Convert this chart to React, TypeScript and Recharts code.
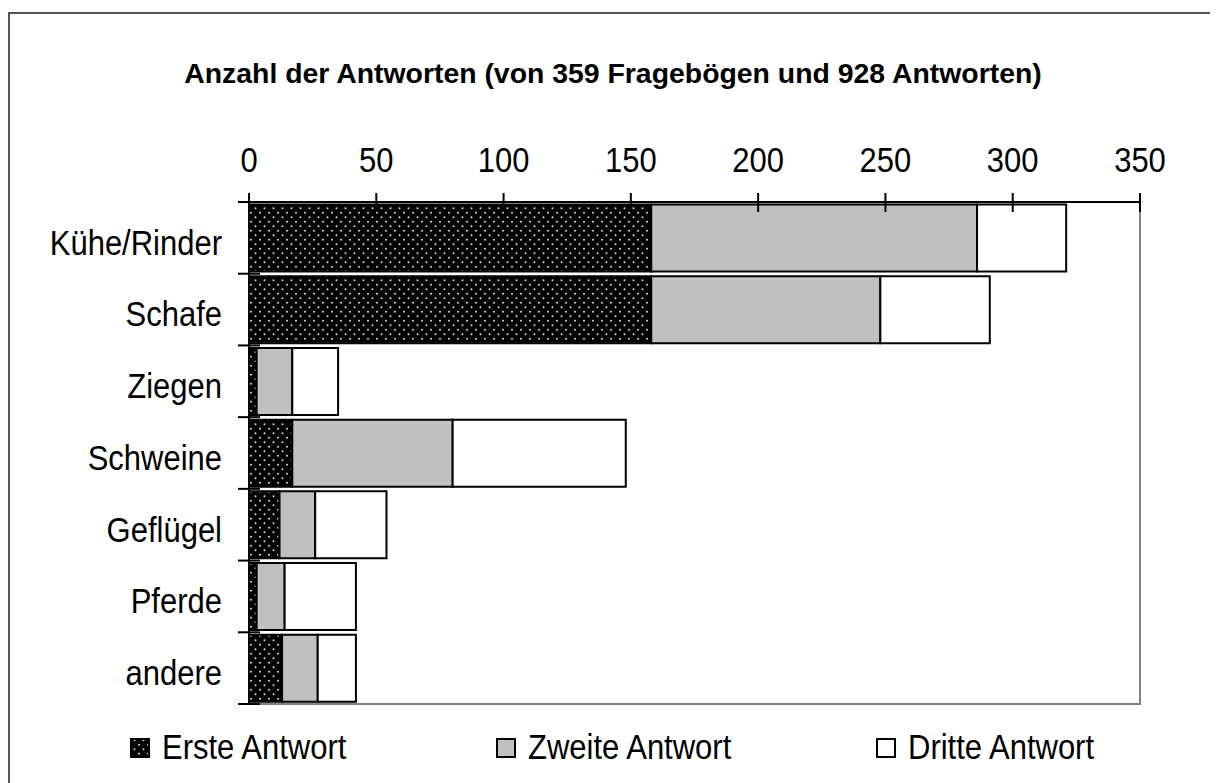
import React from "react";
import {
  Bar,
  BarChart,
  ReferenceArea,
  XAxis,
  YAxis,
} from "recharts";

const categories = [
  "Kühe/Rinder",
  "Schafe",
  "Ziegen",
  "Schweine",
  "Geflügel",
  "Pferde",
  "andere",
];
const erste = [158, 158, 3, 17, 12, 3, 13];
const zweite = [128, 90, 14, 63, 14, 11, 14];
const dritte = [35, 43, 18, 68, 28, 28, 15];
const xTicks = [0, 50, 100, 150, 200, 250, 300, 350];
const seriesNames = ["Erste Antwort", "Zweite Antwort", "Dritte Antwort"];

const title = "Anzahl der Antworten (von 359 Fragebögen und 928 Antworten)";

const data = categories.map((name, i) => ({
  name,
  erste: erste[i],
  zweite: zweite[i],
  dritte: dritte[i],
}));

const FONT = '"Liberation Sans", Arial, sans-serif';
const PLOT_TOP = 194;
const PLOT_BOTTOM = 696;
const BAND = (PLOT_BOTTOM - PLOT_TOP) / categories.length;
const STRETCH = 1.15;

function XTick(props: any) {
  const { x, y, payload } = props;
  return (
    <g>
      <line x1={x} x2={x} y1={y - 9} y2={y + 10} stroke="#000" strokeWidth={2} />
      <text
        transform={`translate(${x},${y - 30}) scale(1,${STRETCH})`}
        textAnchor="middle"
        fontFamily={FONT}
        fontSize={31}
        fill="#000"
      >
        {payload.value}
      </text>
    </g>
  );
}

function YTick(props: any) {
  const { x, y, payload, index } = props;
  return (
    <g>
      <line x1={x - 11} x2={x + 11} y1={y - BAND / 2} y2={y - BAND / 2} stroke="#000" strokeWidth={2} />
      {index === categories.length - 1 && (
        <line x1={x - 11} x2={x + 11} y1={y + BAND / 2} y2={y + BAND / 2} stroke="#000" strokeWidth={2} />
      )}
      <text
        transform={`translate(${x - 27},${y + 4}) scale(1,${STRETCH})`}
        dy="0.36em"
        textAnchor="end"
        fontFamily={FONT}
        fontSize={31}
        fill="#000"
      >
        {payload.value}
      </text>
    </g>
  );
}

const legendFills = ["url(#dots)", "#c0c0c0", "#ffffff"];
const legendX = [122, 488, 868];

export default function App() {
  return (
    <div style={{ position: "relative", width: 1210, height: 775, fontFamily: FONT }}>
      <div
        style={{
          position: "absolute",
          left: 0,
          top: 4,
          width: 1210,
          height: 771,
          borderLeft: "2px solid #555",
          borderTop: "2px solid #555",
          boxSizing: "border-box",
        }}
      />
      <div
        style={{
          position: "absolute",
          left: 0,
          top: 50,
          width: 1210,
          lineHeight: "30px",
          textAlign: "center",
          fontWeight: "bold",
          fontSize: 28.4,
        }}
      >
        {title}
      </div>
      <div style={{ position: "absolute", left: 0, top: 0 }}>
        <BarChart
          width={1210}
          height={775}
          data={data}
          layout="vertical"
          barCategoryGap="3.5%"
          margin={{ top: PLOT_TOP - 60, right: 78, bottom: 775 - PLOT_BOTTOM, left: 0 }}
        >
          <defs>
            <pattern id="dots" width="9" height="9" patternUnits="userSpaceOnUse">
              <rect width="9" height="9" fill="#000" />
              <circle cx="4.5" cy="2.25" r="1" fill="#d8d8d8" />
              <circle cx="0" cy="6.75" r="1" fill="#d8d8d8" />
              <circle cx="9" cy="6.75" r="1" fill="#d8d8d8" />
            </pattern>
          </defs>
          <ReferenceArea
            x1={0}
            x2={350}
            fill="none"
            stroke="#808080"
            strokeWidth={2}
            ifOverflow="visible"
          />
          <XAxis
            type="number"
            orientation="top"
            domain={[0, 350]}
            ticks={xTicks}
            height={60}
            tickSize={0}
            tickMargin={0}
            tickLine={false}
            axisLine={{ stroke: "#000", strokeWidth: 2 }}
            tick={<XTick />}
            interval={0}
          />
          <YAxis
            type="category"
            dataKey="name"
            width={241}
            tickSize={0}
            tickMargin={0}
            tickLine={false}
            axisLine={{ stroke: "#000", strokeWidth: 2 }}
            tick={<YTick />}
            interval={0}
          />
          <Bar
            dataKey="erste"
            name={seriesNames[0]}
            stackId="a"
            fill="url(#dots)"
            stroke="#000"
            strokeWidth={2}
            isAnimationActive={false}
          />
          <Bar
            dataKey="zweite"
            name={seriesNames[1]}
            stackId="a"
            fill="#c0c0c0"
            stroke="#000"
            strokeWidth={2}
            isAnimationActive={false}
          />
          <Bar
            dataKey="dritte"
            name={seriesNames[2]}
            stackId="a"
            fill="#ffffff"
            stroke="#000"
            strokeWidth={2}
            isAnimationActive={false}
          />
        </BarChart>
      </div>
      {seriesNames.map((n, i) => (
        <div
          key={n}
          style={{
            position: "absolute",
            left: legendX[i],
            top: 722,
            height: 36,
            display: "flex",
            alignItems: "center",
            fontSize: 31,
            whiteSpace: "nowrap",
          }}
        >
          <svg width={20} height={20} style={{ marginRight: 12 }}>
            <rect x={1} y={1} width={18} height={18} fill={legendFills[i]} stroke="#000" strokeWidth={2} />
          </svg>
          <span style={{ display: "inline-block", transform: `scaleY(${STRETCH})` }}>{n}</span>
        </div>
      ))}
    </div>
  );
}
